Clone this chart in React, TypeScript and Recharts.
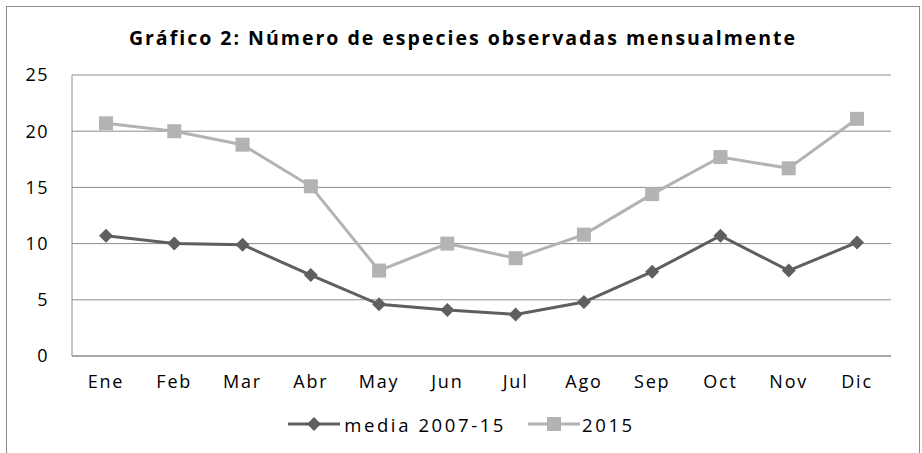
import React from "react";
import { CartesianGrid, Legend, Line, LineChart, XAxis, YAxis } from "recharts";

const months = ["Ene", "Feb", "Mar", "Abr", "May", "Jun", "Jul", "Ago", "Sep", "Oct", "Nov", "Dic"];
const media = [10.7, 10.0, 9.9, 7.2, 4.6, 4.1, 3.7, 4.8, 7.5, 10.7, 7.6, 10.1];
const year2015 = [20.7, 20.0, 18.8, 15.1, 7.6, 10.0, 8.7, 10.8, 14.4, 17.7, 16.7, 21.1];
const yTicks = [0, 5, 10, 15, 20, 25];

const data = months.map((m, i) => ({ mes: m, media: media[i], y2015: year2015[i] }));

const DARK = "#5f5f5f";
const LIGHT = "#b3b3b3";
const FONT = "'Open Sans', sans-serif";

const Diamond = (props: any) => {
  const { cx, cy } = props;
  if (cx == null || cy == null) return null;
  const r = 7;
  return (
    <path
      d={`M${cx},${cy - r} L${cx + r},${cy} L${cx},${cy + r} L${cx - r},${cy} Z`}
      fill={DARK}
    />
  );
};

const Square = (props: any) => {
  const { cx, cy } = props;
  if (cx == null || cy == null) return null;
  const s = 7;
  return <rect x={cx - s} y={cy - s} width={s * 2} height={s * 2} fill={LIGHT} />;
};

const LegendContent = () => (
  <div
    style={{
      display: "flex",
      justifyContent: "center",
      alignItems: "center",
      fontFamily: FONT,
      fontSize: 18.5,
      letterSpacing: 2.6,
      color: "#000",
      height: 24,
    }}
  >
    <svg width={52} height={16} style={{ marginRight: 4 }}>
      <line x1={0} y1={8} x2={52} y2={8} stroke={DARK} strokeWidth={3} />
      <path d="M26,1 L33,8 L26,15 L19,8 Z" fill={DARK} />
    </svg>
    <span style={{ marginRight: 22 }}>media 2007-15</span>
    <svg width={52} height={16} style={{ marginRight: 2 }}>
      <line x1={0} y1={8} x2={52} y2={8} stroke={LIGHT} strokeWidth={3} />
      <rect x={19} y={1} width={14} height={14} fill={LIGHT} />
    </svg>
    <span>2015</span>
  </div>
);

export default function App() {
  return (
    <div
      style={{
        position: "absolute",
        left: 6,
        top: 6,
        width: 912,
        height: 460,
        border: "1px solid #8c8c8c",
        background: "#fff",
        fontFamily: FONT,
      }}
    >
      <div
        style={{
          position: "absolute",
          top: 17,
          left: 0,
          width: "100%",
          textAlign: "center",
          fontWeight: 700,
          fontSize: 19.5,
          letterSpacing: 2,
          color: "#000",
        }}
      >
        Gráfico 2: Número de especies observadas mensualmente
      </div>
      <LineChart width={912} height={447} data={data} margin={{ top: 68, right: 28, left: 25, bottom: 44 }}>
        <CartesianGrid vertical={false} stroke="#8c8c8c" />
        <XAxis
          dataKey="mes"
          padding={{ left: 34, right: 34 }}
          tickLine={false}
          axisLine={{ stroke: "#8c8c8c" }}
          tick={{ fill: "#000", fontSize: 18, fontFamily: FONT, letterSpacing: 1.8 }}
          tickMargin={13}
          height={30}
        />
        <YAxis
          domain={[0, 25]}
          ticks={yTicks}
          tickLine={false}
          axisLine={{ stroke: "#8c8c8c" }}
          tick={{ fill: "#000", fontSize: 18, fontFamily: FONT, letterSpacing: 1.5 }}
          tickMargin={17}
          width={40}
        />
        <Legend content={<LegendContent />} wrapperStyle={{ top: 405 }} />
        <Line
          dataKey="media"
          name="media 2007-15"
          stroke={DARK}
          strokeWidth={3}
          dot={<Diamond />}
          isAnimationActive={false}
        />
        <Line
          dataKey="y2015"
          name="2015"
          stroke={LIGHT}
          strokeWidth={3}
          dot={<Square />}
          isAnimationActive={false}
        />
      </LineChart>
    </div>
  );
}
